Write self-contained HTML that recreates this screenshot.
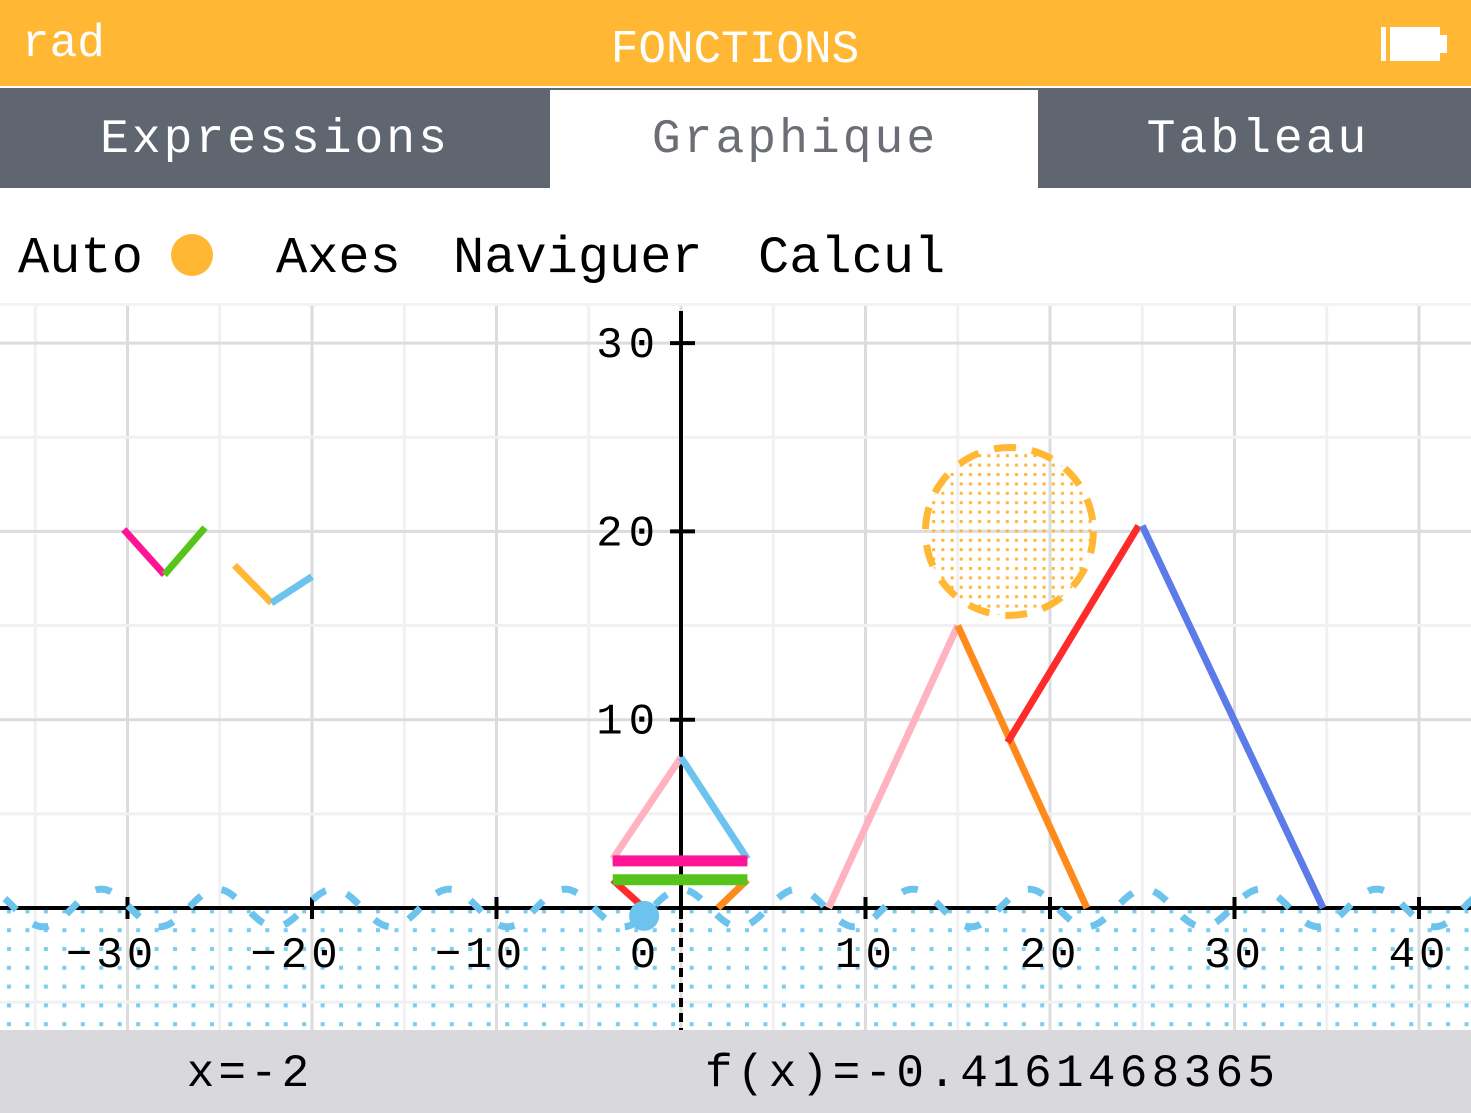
<!DOCTYPE html>
<html><head><meta charset="utf-8">
<style>
html,body{margin:0;padding:0;width:1471px;height:1113px;overflow:hidden;background:#fff;font-family:"Liberation Mono",monospace;}
svg{display:block}
</style></head>
<body>
<svg id="scr" width="1471" height="1113" viewBox="0 0 1471 1113" xmlns="http://www.w3.org/2000/svg">
<defs>
<pattern id="bdots" x="0" y="0" width="18.45" height="18.8" patternUnits="userSpaceOnUse"><rect x="7" y="7" width="4" height="4" fill="#7ccbf0"/></pattern>
<pattern id="odots" x="0" y="0" width="9.2" height="9.4" patternUnits="userSpaceOnUse"><rect x="3" y="3" width="3" height="3" fill="#ffb734"/></pattern>
</defs>
<rect x="0" y="0" width="1471" height="86" fill="#ffb734"/>
<text x="22" y="56" font-size="46" fill="#fff">rad</text>
<text x="735" y="62" font-size="46" fill="#fff" text-anchor="middle">FONCTIONS</text>
<g><rect x="1381" y="27" width="5" height="34" fill="#fff"/><rect x="1390" y="27" width="50" height="34" fill="#fff"/><rect x="1440" y="35" width="7" height="18" fill="#fff"/></g>
<rect x="0" y="88" width="1471" height="100" fill="#5f6670"/>
<rect x="550" y="90" width="488" height="98" fill="#fff"/>
<text x="275" y="152" font-size="48" letter-spacing="3" fill="#fff" text-anchor="middle">Expressions</text>
<text x="795" y="152" font-size="48" letter-spacing="3" fill="#6b6f75" text-anchor="middle">Graphique</text>
<text x="1258" y="152" font-size="48" letter-spacing="3" fill="#fff" text-anchor="middle">Tableau</text>
<text x="18" y="272" font-size="52" fill="#000">Auto</text>
<circle cx="192" cy="255" r="21" fill="#ffb734"/>
<text x="276" y="272" font-size="52" fill="#000">Axes</text>
<text x="453" y="272" font-size="52" fill="#000">Naviguer</text>
<text x="758" y="272" font-size="52" fill="#000">Calcul</text>
<rect x="0" y="303" width="1471" height="3" fill="#f3f3f3"/>
<g id="plot"></g>
<rect x="0" y="1030" width="1471" height="83" fill="#d9d8dc"/>
<text x="250" y="1086" font-size="46" letter-spacing="4" fill="#000" text-anchor="middle">x=-2</text>
<text x="705" y="1086" font-size="46" letter-spacing="4.3" fill="#000">f(x)=-0.4161468365</text>
</svg>
<script>
const xTicks=[-30,-20,-10,0,10,20,30,40];
const yTicks=[10,20,30];
const sinAmp=1;
const circleCenter=[17.8,20];
const circleRadius=4.55;
const segX1=[8,15,17.7,25,0,0,-3.7,-3.7,-3.7,3.6,-30.2,-28,-24.2,-22.2];
const segY1=[0,15,8.8,20.3,8,8,2.6,2.5,1.5,1.5,20.1,17.7,18.2,16.2];
const segX2=[15,22,24.8,34.8,-3.7,3.6,-3.7,3.6,-2,2,-28,-25.8,-22.2,-20];
const segY2=[15,0,20.3,0,2.6,2.6,2.6,2.5,0,0,17.7,20.2,16.2,17.6];
const segColor=["#ffb3c0","#ff8a1c","#ff2a2a","#5b7be8","#ffb3c0","#6cc4ee","#ffb3c0","#ff1493","#ff2a2a","#ff8a1c","#ff1493","#56c41a","#ffb734","#6cc4ee"];
const hbarY=[2.5,1.5];
const hbarColor=["#ff1493","#56c41a"];
const hbarX=[-3.7,3.6];
const cursorX=-2;

const NS="http://www.w3.org/2000/svg";
const plot=document.getElementById('plot');
const X0=681,SX=18.45,Y0=908,SY=18.83,TOP=306,BOT=1030;
const px=x=>X0+x*SX, py=y=>Y0-y*SY;
function mk(tag,attrs){const e=document.createElementNS(NS,tag);for(const k in attrs)e.setAttribute(k,attrs[k]);plot.appendChild(e);return e;}
for(let v=-40;v<=45;v+=5){const x=px(v);if(x<0||x>1471)continue;
 const g=mk('line',{x1:x,y1:TOP,x2:x,y2:BOT,stroke:v%10===0?'#dcdbde':'#f1f1f3','stroke-width':3});
 }
for(let v=-5;v<=35;v+=5){const y=py(v);if(y<TOP||y>BOT)continue;
 const g=mk('line',{x1:0,y1:y,x2:1471,y2:y,stroke:v%10===0?'#dcdbde':'#f1f1f3','stroke-width':3});
 }
const fill=mk('rect',{x:0,y:Y0,width:1471,height:BOT-Y0,fill:'url(#bdots)'});

const xa=mk('line',{x1:0,y1:Y0,x2:1471,y2:Y0,stroke:'#000','stroke-width':4});

const ya=mk('line',{x1:X0,y1:TOP+5,x2:X0,y2:Y0,stroke:'#000','stroke-width':4});

const yd=mk('line',{x1:X0,y1:Y0,x2:X0,y2:BOT,stroke:'#000','stroke-width':4,'stroke-dasharray':'9 6'});

xTicks.forEach(t=>{const x=px(t);
 const tk=mk('line',{x1:x,y1:Y0-11,x2:x,y2:Y0+11,stroke:'#000','stroke-width':4});
 
 const tx=mk('text',{x:x+(t<0?-16:(t===0?-36:0)),y:Y0+59,'font-size':44,'letter-spacing':4,'text-anchor':'middle',fill:'#000','font-family':'Liberation Mono, monospace'});
 tx.textContent=t<0?'−'+(-t):String(t);
 });
yTicks.forEach(t=>{const y=py(t);
 const tk=mk('line',{x1:X0-11,y1:y,x2:X0+14,y2:y,stroke:'#000','stroke-width':4});
 
 const tx=mk('text',{x:X0-20,y:y+14,'font-size':44,'letter-spacing':6,'text-anchor':'end',fill:'#000','font-family':'Liberation Mono, monospace'});
 tx.textContent=String(t);
 });
let d='';for(let x=-40;x<=44;x+=0.1){d+=(d?'L':'M')+px(x).toFixed(1)+','+py(sinAmp*Math.cos(x)).toFixed(1);}
const sw=mk('path',{d:d,fill:'none',stroke:'#6cc4ee','stroke-width':7,'stroke-dasharray':'16 22'});

const c=mk('circle',{cx:px(circleCenter[0]),cy:py(circleCenter[1]),r:circleRadius*SX,fill:'url(#odots)',stroke:'#ffb734','stroke-width':7,'stroke-dasharray':'22 16'});

segX1.forEach((v,i)=>{const l=mk('line',{x1:px(v),y1:py(segY1[i]),x2:px(segX2[i]),y2:py(segY2[i]),stroke:segColor[i],'stroke-width':7});
 });
hbarY.forEach((v,i)=>{const l=mk('line',{x1:px(hbarX[0]),y1:py(v),x2:px(hbarX[1]),y2:py(v),stroke:hbarColor[i],'stroke-width':11});
 });
const cur=mk('circle',{cx:px(cursorX),cy:py(Math.cos(cursorX)),r:15,fill:'#6cc4ee'});

</script>
</body></html>
